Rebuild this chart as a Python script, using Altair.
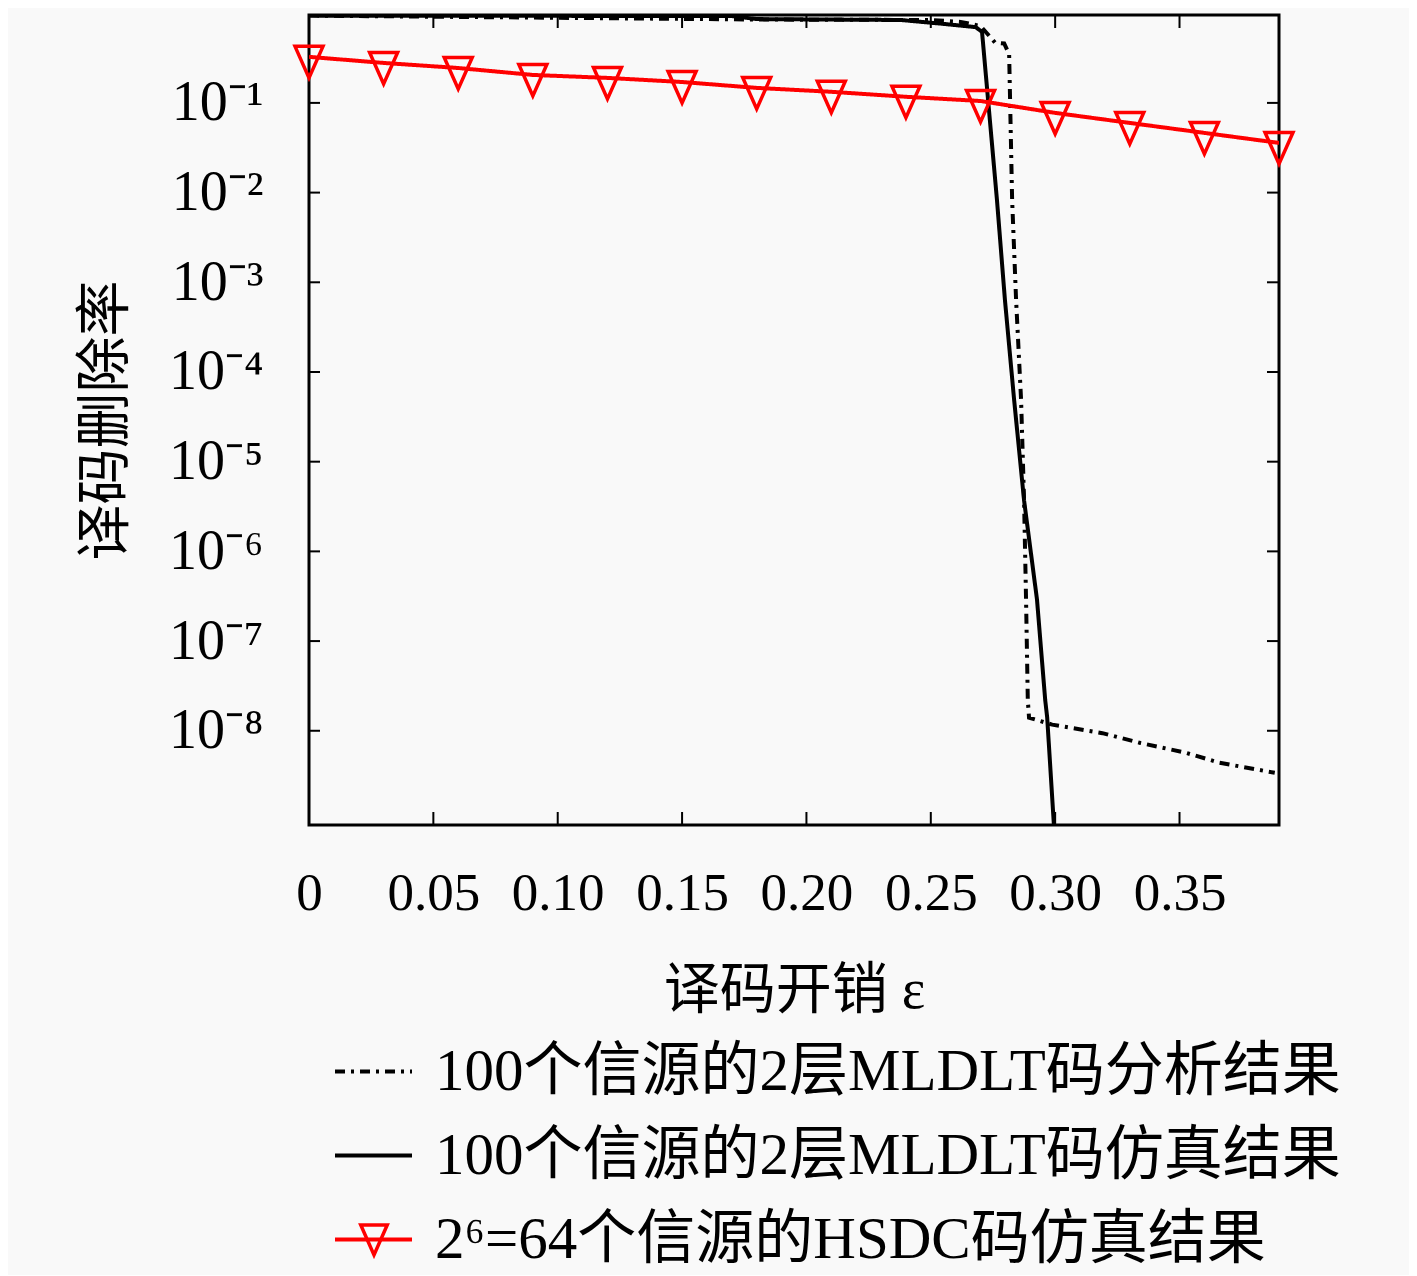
import altair as alt
import pandas as pd

S_ANA = "100个信源的2层MLDLT码分析结果"
S_SIM = "100个信源的2层MLDLT码仿真结果"
S_HSDC = "2⁶=64个信源的HSDC码仿真结果"
SERIES = [S_ANA, S_SIM, S_HSDC]

# analytic (dash-dot)
ana_x = [0.0, 0.18, 0.25, 0.262, 0.270, 0.2745, 0.2758, 0.2795, 0.2815, 0.2827, 0.2843,
         0.2863, 0.2875, 0.2883, 0.2890, 0.2895, 0.2988, 0.3190, 0.3343, 0.3524, 0.3661, 0.3883]
ana_y = [0.94, 0.85, 0.84, 0.80, 0.72, 0.52, 0.47, 0.46, 0.35, 8.3e-3, 6.3e-4,
         4.9e-5, 3.7e-6, 2.9e-7, 2.2e-8, 1.4e-8, 1.17e-8, 9.4e-9, 7.3e-9, 5.7e-9, 4.4e-9, 3.4e-9]

# simulation (solid)
sim_x = [0.0, 0.17, 0.18, 0.238, 0.2552, 0.268, 0.2706, 0.2766, 0.2798, 0.2835,
         0.2875, 0.2927, 0.2960, 0.2968, 0.2996]
sim_y = [0.94, 0.93, 0.86, 0.84, 0.76, 0.70, 0.62, 8.3e-3, 6.4e-4, 4.9e-5,
         3.7e-6, 2.9e-7, 2.2e-8, 1.4e-8, 8.0e-10]

# HSDC (red, triangles)
hsdc_x = [0.0, 0.03, 0.06, 0.09, 0.12, 0.15, 0.18, 0.21, 0.24, 0.27, 0.30, 0.33, 0.36, 0.39]
hsdc_y = [0.326, 0.279, 0.245, 0.205, 0.190, 0.171, 0.147, 0.133, 0.117, 0.105,
          0.0774, 0.0598, 0.0463, 0.0358]

x_ticks = [0.05, 0.10, 0.15, 0.20, 0.25, 0.30, 0.35]
x_label_vals = [0.0, 0.05, 0.10, 0.15, 0.20, 0.25, 0.30, 0.35]
y_ticks = [1e-1, 1e-2, 1e-3, 1e-4, 1e-5, 1e-6, 1e-7, 1e-8]

W, H = 970, 810
SERIF = "'Liberation Serif', 'Noto Sans CJK SC'"

lines = pd.concat([
    pd.DataFrame({"x": ana_x, "y": ana_y, "series": S_ANA}),
    pd.DataFrame({"x": sim_x, "y": sim_y, "series": S_SIM}),
    pd.DataFrame({"x": hsdc_x, "y": hsdc_y, "series": S_HSDC}),
], ignore_index=True)
pts = pd.DataFrame({"x": hsdc_x, "y": hsdc_y, "marker": S_HSDC})
xt = pd.DataFrame({"x": x_ticks})
yt = pd.DataFrame({"y": y_ticks})

xs = alt.Scale(domain=[0, 0.39], nice=False, zero=False)
ys = alt.Scale(type="log", domain=[8.9e-10, 0.955], nice=False)

xaxis = alt.Axis(values=x_label_vals, labelExpr="datum.value == 0 ? '0' : format(datum.value, '.2f')",
                 labelFont=SERIF, labelFontSize=53, labelColor="black", labelPadding=42,
                 ticks=False, domain=False, grid=False, labelFlush=False, labelOverlap=False,
                 title="译码开销 ε", titleFont=SERIF, titleFontSize=56, titleFontWeight="normal",
                 titleColor="black", titleX=485, titleY=165, titleBaseline="middle", titleAlign="center")
yaxis = alt.Axis(values=y_ticks,
                 labelExpr="'10⁻' + ['¹','²','³','⁴','⁵','⁶','⁷','⁸','⁹'][round(-log(datum.value)/LN10)-1]",
                 labelFont=SERIF, labelFontSize=56, labelColor="black", labelPadding=46,
                 ticks=False, domain=False, grid=False, labelOverlap=False, labelFlush=False,
                 title="译码删除率", titleFont=SERIF, titleFontSize=56, titleFontWeight="normal",
                 titleColor="black", titleX=-204, titleY=405, titleAngle=270,
                 titleBaseline="middle", titleAlign="center")

X = alt.X("x:Q", scale=xs, axis=xaxis)
Y = alt.Y("y:Q", scale=ys, axis=yaxis)

legend_main = alt.Legend(orient="none", legendX=24, legendY=1016, title=None,
                         symbolType="stroke", symbolSize=5929, symbolStrokeWidth=4,
                         labelFont=SERIF, labelFontSize=59, labelColor="black",
                         labelOffset=21, rowPadding=13, padding=0, labelLimit=3000)

line_layer = alt.Chart(lines).mark_line(clip=True, strokeWidth=4).encode(
    x=X, y=Y,
    color=alt.Color("series:N", scale=alt.Scale(domain=SERIES, range=["black", "black", "#ff0000"]),
                    legend=legend_main),
    strokeDash=alt.StrokeDash("series:N", scale=alt.Scale(domain=SERIES, range=[[10, 6, 3, 6], [1, 0], [1, 0]]),
                              legend=legend_main),
    strokeWidth=alt.StrokeWidth("series:N", scale=alt.Scale(domain=SERIES, range=[4, 4, 5.5]), legend=None),
    order=alt.Order("x:Q"),
)

point_layer = alt.Chart(pts).mark_point(clip=False, filled=False, strokeWidth=3.5, size=784,
                                        color="#ff0000", opacity=1).encode(
    x=X, y=Y,
    shape=alt.Shape("marker:N", scale=alt.Scale(domain=[S_HSDC], range=["M-1,-0.75L1,-0.75L0,1.5Z"]),
                    legend=alt.Legend(orient="none", legendX=50, legendY=1205, title=None, labelExpr="''",
                                      symbolSize=700, symbolStrokeWidth=3.5, symbolStrokeColor="#ff0000",
                                      symbolFillColor="transparent", symbolOpacity=1,
                                      padding=0, labelFontSize=2)),
)

tk = dict(color="black", strokeWidth=2)
bottom_ticks = alt.Chart(xt).mark_rule(**tk).encode(x=X, y=alt.value(H), y2=alt.value(H - 13))
top_ticks = alt.Chart(xt).mark_rule(**tk).encode(x=X, y=alt.value(0), y2=alt.value(13))
left_ticks = alt.Chart(yt).mark_rule(**tk).encode(y=Y, x=alt.value(0), x2=alt.value(11))
right_ticks = alt.Chart(yt).mark_rule(**tk).encode(y=Y, x=alt.value(W), x2=alt.value(W - 12))

chart = alt.layer(line_layer, point_layer, bottom_ticks, top_ticks, left_ticks, right_ticks).properties(
    width=W, height=H,
    autosize=alt.AutoSizeParams(type="none"),
    padding={"left": 301, "top": 7, "right": 130, "bottom": 450},
    background="#f9f9f9",
).configure_view(stroke="black", strokeWidth=3)

chart.save("out.html", embed_options={"renderer": "svg", "actions": False})
